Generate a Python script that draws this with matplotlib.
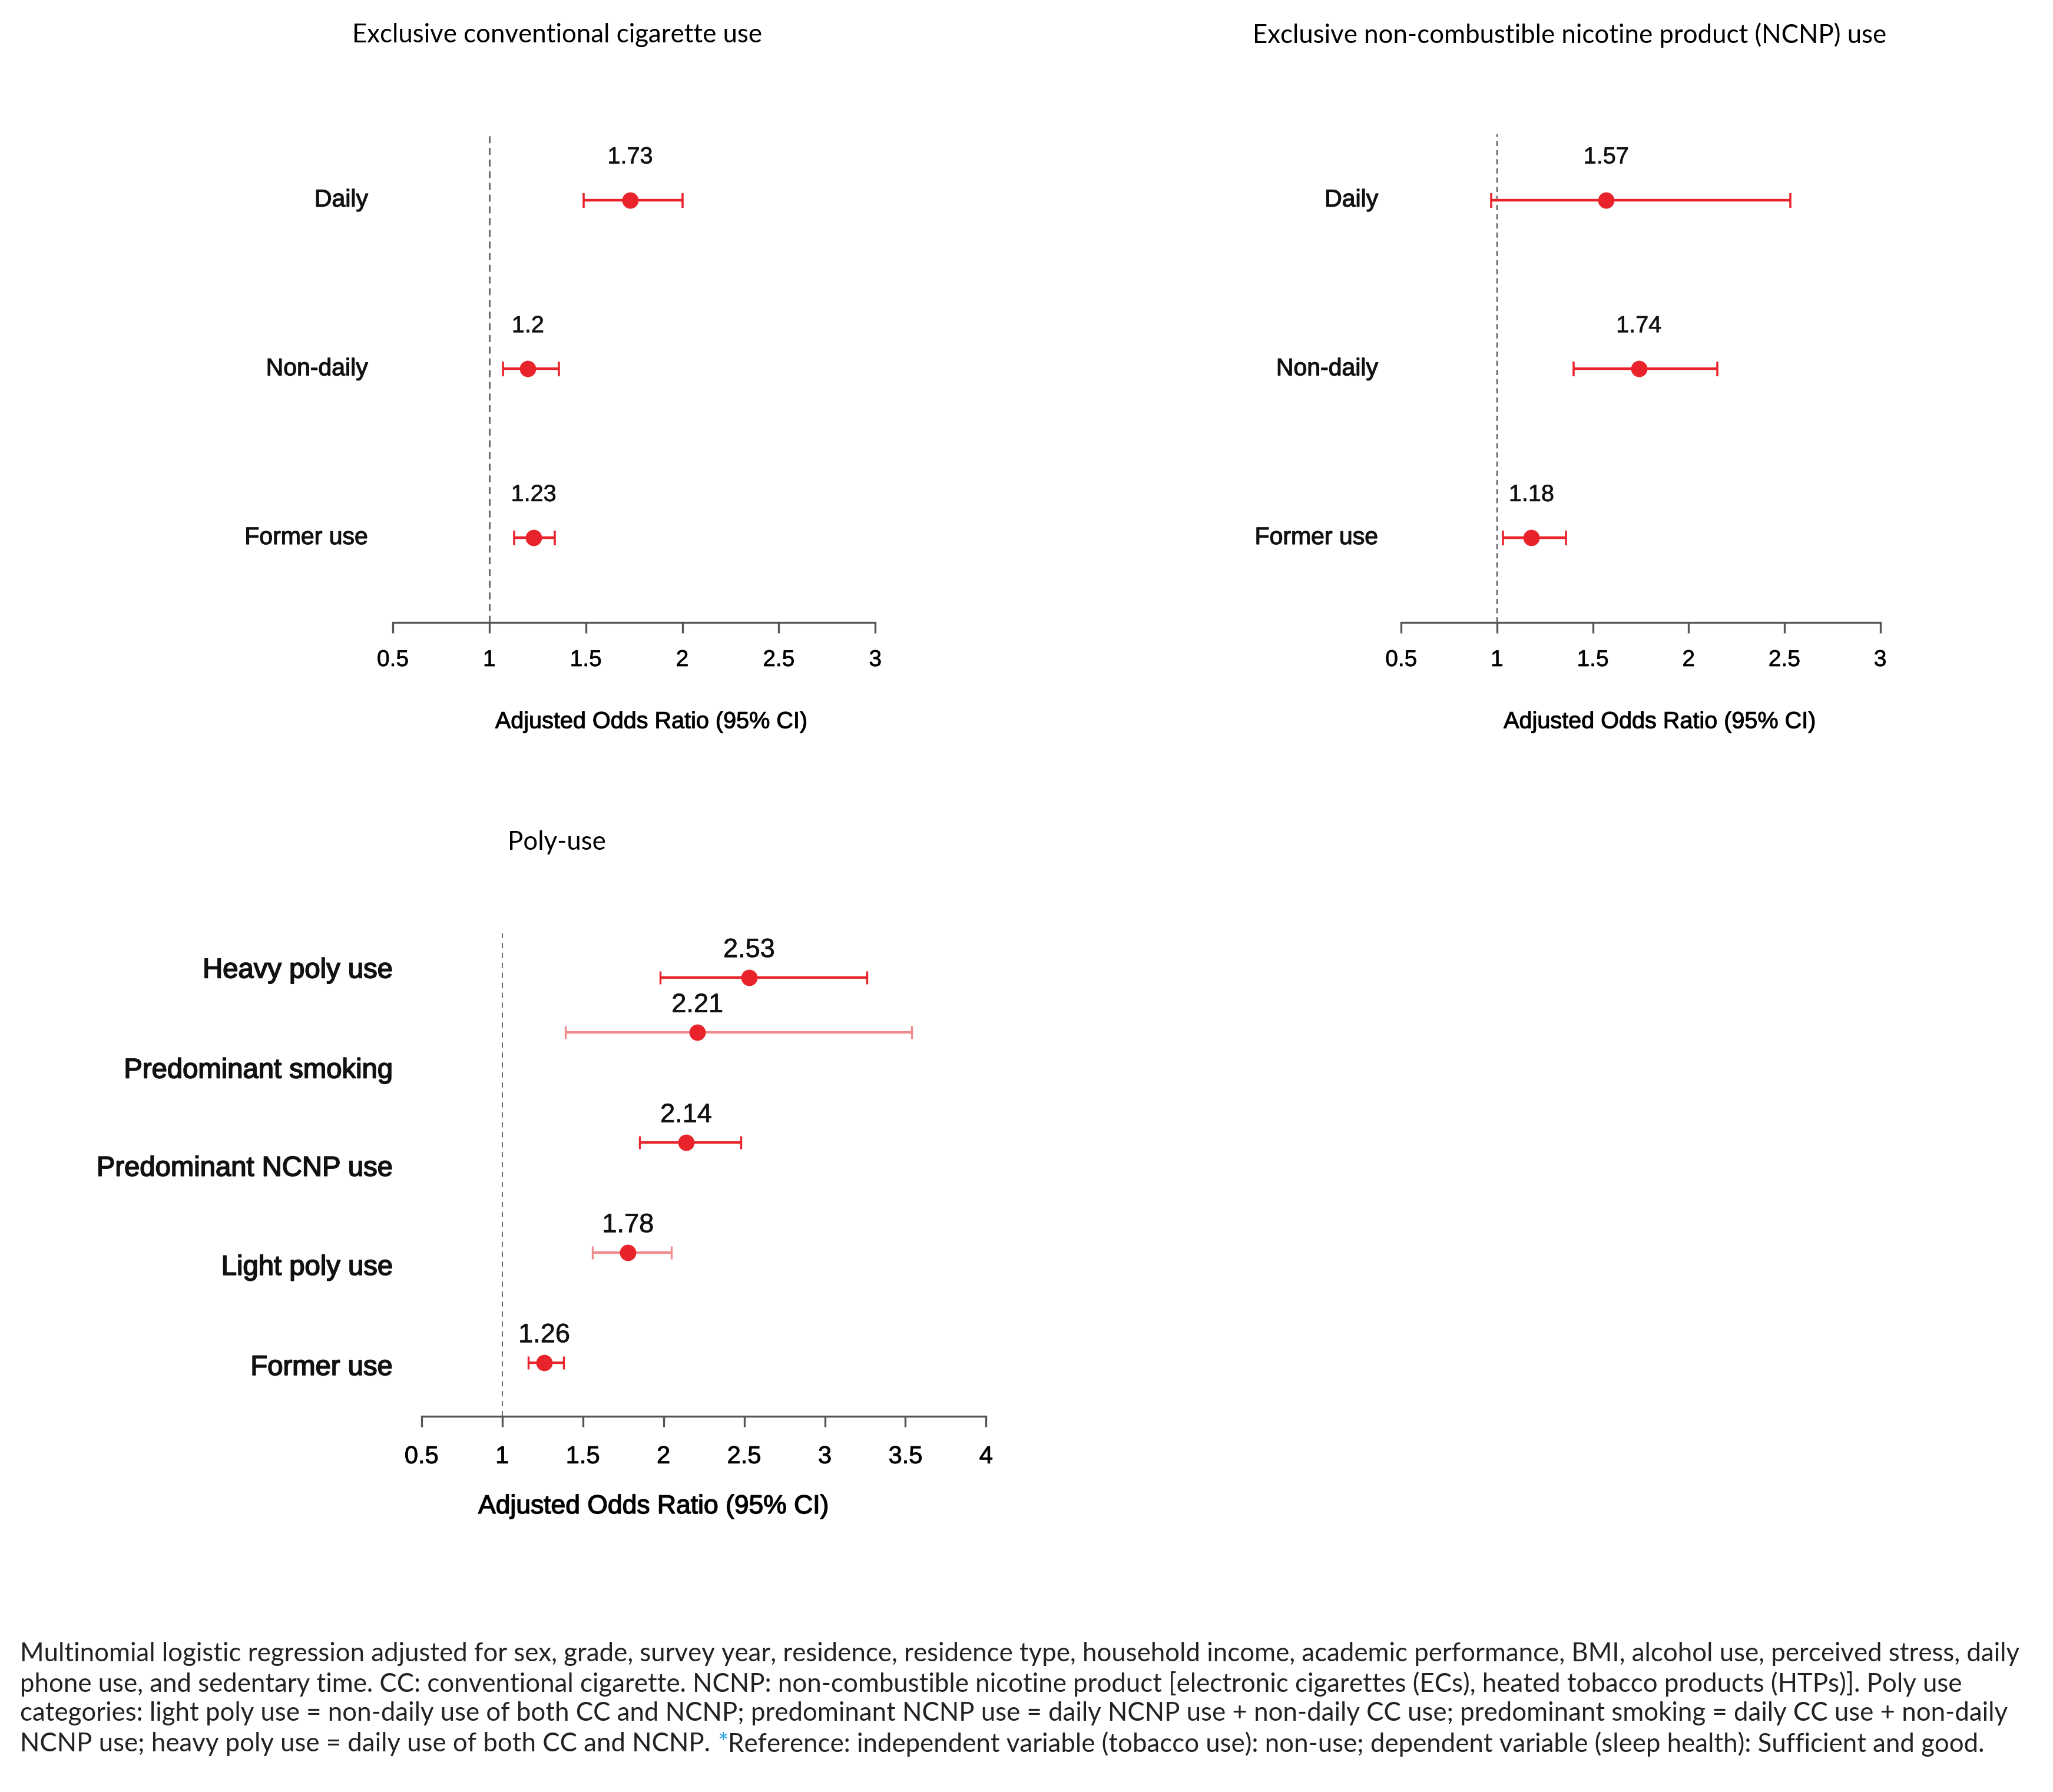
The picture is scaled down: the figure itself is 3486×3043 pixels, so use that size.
import numpy as np
import matplotlib.pyplot as plt
import matplotlib.transforms as mtransforms
import matplotlib.patheffects as pe

W, H = 3486, 3043
DPI = 100
S = 0.9955  # correccion de escala de las medidas en pixeles

# ---- datos ----
cc_labels = ['Daily', 'Non-daily', 'Former use']
cc_or = [1.73, 1.20, 1.23]
cc_lo = [1.49, 1.07, 1.13]
cc_hi = [2.00, 1.36, 1.34]

ncnp_labels = ['Daily', 'Non-daily', 'Former use']
ncnp_or = [1.57, 1.74, 1.18]
ncnp_lo = [0.97, 1.40, 1.03]
ncnp_hi = [2.53, 2.15, 1.36]

poly_labels = ['Heavy poly use', 'Predominant smoking', 'Predominant NCNP use',
               'Light poly use', 'Former use']
poly_or = [2.53, 2.21, 2.14, 1.78, 1.26]
poly_lo = [1.98, 1.39, 1.85, 1.56, 1.16]
poly_hi = [3.26, 3.54, 2.48, 2.05, 1.38]

ticks_cc = [0.5, 1, 1.5, 2, 2.5, 3]
ticks_poly = [0.5, 1, 1.5, 2, 2.5, 3, 3.5, 4]

titles = ['Exclusive conventional cigarette use',
          'Exclusive non-combustible nicotine product (NCNP) use',
          'Poly-use']
xlab = 'Adjusted Odds Ratio (95% CI)'

nota = ["Multinomial logistic regression adjusted for sex, grade, survey year, residence, residence type, household income, academic performance, BMI, alcohol use, perceived stress, daily",
        "phone use, and sedentary time. CC: conventional cigarette. NCNP: non-combustible nicotine product [electronic cigarettes (ECs), heated tobacco products (HTPs)]. Poly use",
        "categories: light poly use = non-daily use of both CC and NCNP; predominant NCNP use = daily NCNP use + non-daily CC use; predominant smoking = daily CC use + non-daily",
        "NCNP use; heavy poly use = daily use of both CC and NCNP."]
nota_ref = "Reference: independent variable (tobacco use): non-use; dependent variable (sleep health): Sufficient and good."

RED = '#e8232b'
PINK = '#f08a8d'
ARIAL = ['Liberation Sans', 'DejaVu Sans']
TFONT = ['Lato', 'DejaVu Sans']

fig = plt.figure(figsize=(W/DPI, H/DPI), dpi=DPI)


def fx(v):
    return v*S/W


def fy(v):
    return 1 - v*S/H


def grueso(w):
    # engrosa un poco el texto (aspecto de las etiquetas originales)
    return [pe.withStroke(linewidth=w, foreground='#111111')]


def panel(x0, x1, xmax, y_axis, ybot, unit, ytop, ticks):
    # ejes ubicados en pixeles
    h = (ytop - ybot)*unit*S
    ax = fig.add_axes([fx(x0), fy(y_axis), fx(x1)-fx(x0), h/H])
    ax.set_xlim(0.5, xmax)
    ax.set_ylim(ybot, ytop)
    for s in ['left', 'top', 'right']:
        ax.spines[s].set_visible(False)
    ax.spines['bottom'].set_color('#555555')
    ax.spines['bottom'].set_linewidth(2.4)
    ax.set_yticks([])
    ax.set_xticks(ticks)
    ax.set_xticklabels([('%g' % t) for t in ticks])
    ax.tick_params(axis='x', direction='out', length=13, width=2.4,
                   color='#555555', pad=20)
    ax.patch.set_alpha(0)
    return ax


def forest(ax, est, lo, hi, ydots, cols, ms, lw, cap, fs, dy):
    for i in range(len(est)):
        ax.errorbar(est[i], ydots[i], xerr=[[est[i]-lo[i]], [hi[i]-est[i]]],
                    fmt='o', color=RED, ecolor=cols[i], ms=ms, elinewidth=lw,
                    capsize=cap, capthick=lw*0.8, zorder=3)
        ax.text(est[i], ydots[i]+dy, '%g' % est[i], ha='center', va='center',
                fontsize=fs, family=ARIAL, color='#111111',
                path_effects=grueso(0.5))


def labels(ax, names, ylab, xr, fs, sw):
    tr = mtransforms.blended_transform_factory(fig.transFigure, ax.transData)
    for n, y in zip(names, ylab):
        ax.text(fx(xr), y, n, transform=tr, ha='right', va='center',
                fontsize=fs, family=ARIAL, color='#111111',
                path_effects=grueso(sw))


################## Panel 1 ##################
ax1 = panel(670, 1493, 3, 1062, 0.497, 288, 3.7, ticks_cc)
y1 = [3, 2, 1]
ax1.vlines(1, 0.497, 3.39, colors='#6a6a6a', linestyles=(0, (3.9, 2.6)), lw=2.2)
forest(ax1, cc_or, cc_lo, cc_hi, y1, [RED]*3, 19, 3.2, 9, 28.5, 0.255)
labels(ax1, cc_labels, y1, 628, 29.5, 0.9)
for t in ax1.get_xticklabels():
    t.set_fontsize(28); t.set_family(ARIAL); t.set_path_effects(grueso(0.5))
fig.text(fx(1111), fy(1231), xlab, ha='center', va='center', fontsize=28.5,
         family=ARIAL, path_effects=grueso(0.8))
fig.text(fx(950), fy(60), titles[0], ha='center', va='center', fontsize=31.5, family=TFONT)

################## Panel 2 ##################
ax2 = panel(2390, 3207, 3, 1062, 0.497, 288, 3.7, ticks_cc)
ax2.vlines(1, 0.497, 3.39, colors='#555555', linestyles=(0, (4, 3)), lw=1.6)
forest(ax2, ncnp_or, ncnp_lo, ncnp_hi, y1, [RED]*3, 19, 3.2, 9, 28.5, 0.255)
labels(ax2, ncnp_labels, y1, 2351, 29.5, 0.9)
for t in ax2.get_xticklabels():
    t.set_fontsize(28); t.set_family(ARIAL); t.set_path_effects(grueso(0.5))
fig.text(fx(2831), fy(1231), xlab, ha='center', va='center', fontsize=28.5,
         family=ARIAL, path_effects=grueso(0.8))
fig.text(fx(2677), fy(60), titles[1], ha='center', va='center', fontsize=31.5, family=TFONT)

################## Panel 3 ##################
ax3 = panel(719, 1682, 4, 2416, 1.01, 187.7, 5.6, ticks_poly)
y3 = [5.0, 4.5, 3.5, 2.5, 1.5]
y3lab = [5.06, 4.15, 3.26, 2.36, 1.45]
ax3.vlines(1, 1.01, 5.40, colors='#666666', linestyles=(0, (4.6, 4.1)), lw=1.4)
forest(ax3, poly_or, poly_lo, poly_hi, y3, [RED, PINK, RED, PINK, RED],
       19, 3.0, 8, 32.5, 0.245)
labels(ax3, poly_labels, y3lab, 670, 34, 1.3)
ax3.tick_params(axis='x', pad=22)
for t in ax3.get_xticklabels():
    t.set_fontsize(30); t.set_family(ARIAL); t.set_path_effects(grueso(0.7))
fig.text(fx(1115), fy(2570), xlab, ha='center', va='center', fontsize=32,
         family=ARIAL, path_effects=grueso(1.1))
fig.text(fx(950), fy(1437), titles[2], ha='center', va='center', fontsize=31.5, family=TFONT)

################## Nota ##################
ys = [2821, 2872, 2923, 2975]
for i, linea in enumerate(nota):
    t = fig.text(fx(34), fy(ys[i]), linea, ha='left', va='center',
                 fontsize=31.5, family=TFONT, color='#222222')

r = fig.canvas.get_renderer()
bb = t.get_window_extent(r)
t2 = fig.text((bb.x1+12)/W, fy(ys[3]), '*', ha='left', va='center',
              fontsize=31.5, family=TFONT, color='#2aa3df')
bb2 = t2.get_window_extent(r)
fig.text(bb2.x1/W, fy(ys[3]), nota_ref, ha='left', va='center',
         fontsize=31.5, family=TFONT, color='#222222')

fig.savefig('out.png', dpi=DPI, facecolor='white')
